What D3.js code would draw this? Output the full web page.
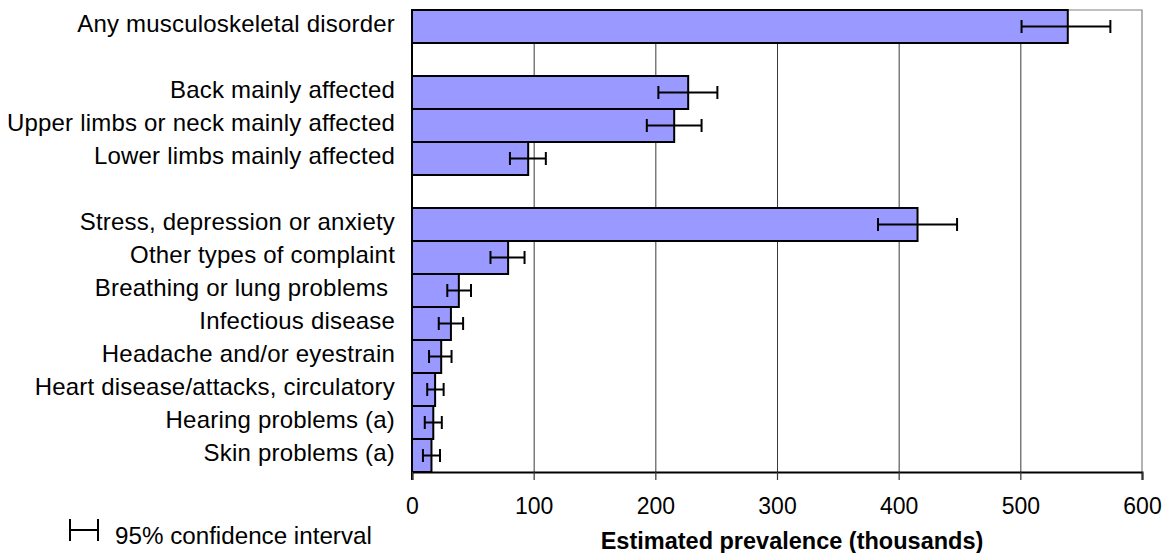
<!DOCTYPE html>
<html>
<head>
<meta charset="utf-8">
<script src="https://cdn.jsdelivr.net/npm/d3@7"></script>
<style>
  html, body { margin: 0; padding: 0; background: #fff; }
  svg { display: block; font-family: "Liberation Sans", Arial, sans-serif; }
</style>
</head>
<body>
<svg id="chart" width="1173" height="553"></svg>
<script>
// ---- Data ----
const categories = [
  "Any musculoskeletal disorder",
  "Back mainly affected",
  "Upper limbs or neck mainly affected",
  "Lower limbs mainly affected",
  "Stress, depression or anxiety",
  "Other types of complaint",
  "Breathing or lung problems ",
  "Infectious disease",
  "Headache and/or eyestrain",
  "Heart disease/attacks, circulatory",
  "Hearing problems (a)",
  "Skin problems (a)"
];
const values = [539, 227, 215.5, 95.5, 415.5, 79, 38.5, 32, 24, 19, 17.5, 16];
const lower  = [501, 202.5, 193, 80.5, 383, 64.5, 29, 22, 14, 12.5, 10.5, 9];
const upper  = [574, 251, 238, 110, 448, 92.5, 48.5, 42, 32.5, 26, 24.5, 23];
// rows in display order; gap rows separate the groups
const rowOrder = [categories[0], "gap1", categories[1], categories[2], categories[3], "gap2",
  categories[4], categories[5], categories[6], categories[7], categories[8], categories[9], categories[10], categories[11]];
const xTicks = [0, 100, 200, 300, 400, 500, 600];
const xTitle = "Estimated prevalence (thousands)";
const legendText = "95% confidence interval";

// ---- Layout ----
const svg = d3.select("#chart");
const pL = 412, pR = 1142, pT = 10, pB = 472;
const x = d3.scaleLinear().domain([0, 600]).range([pL, pR]);
const y = d3.scaleBand().domain(rowOrder).range([pT, pB]).padding(0);

const data = categories.map((c, i) => ({ c, v: values[i], lo: lower[i], hi: upper[i] }));

// gridlines
svg.append("g").selectAll("line").data(xTicks.filter(t => t > 0 && t < 600)).join("line")
  .attr("x1", d => x(d) + 0.5).attr("x2", d => x(d) + 0.5)
  .attr("y1", pT).attr("y2", pB)
  .attr("stroke", "#3a3a3a").attr("stroke-width", 1);

// plot frame (top and right, grey)
svg.append("path")
  .attr("d", `M${pL},${pT}H${pR}V${pB}`)
  .attr("fill", "none").attr("stroke", "#808080").attr("stroke-width", 1.2);

// bars
svg.append("g").selectAll("rect").data(data).join("rect")
  .attr("x", x(0))
  .attr("y", d => y(d.c))
  .attr("width", d => x(d.v) - x(0))
  .attr("height", y.bandwidth())
  .attr("fill", "#9999FF")
  .attr("stroke", "#000").attr("stroke-width", 2);

// error bars
const eb = svg.append("g").attr("stroke", "#000").attr("stroke-width", 2);
const cap = 6.5;
data.forEach(d => {
  const cy = y(d.c) + y.bandwidth() / 2;
  eb.append("line").attr("x1", x(d.lo)).attr("x2", x(d.hi)).attr("y1", cy).attr("y2", cy);
  eb.append("line").attr("x1", x(d.lo)).attr("x2", x(d.lo)).attr("y1", cy - cap).attr("y2", cy + cap);
  eb.append("line").attr("x1", x(d.hi)).attr("x2", x(d.hi)).attr("y1", cy - cap).attr("y2", cy + cap);
});

// category labels
svg.append("g").selectAll("text").data(data).join("text")
  .attr("x", 395)
  .attr("y", d => y(d.c) + y.bandwidth() / 2 + 5)
  .attr("text-anchor", "end")
  .style("white-space", "pre")
  .attr("font-size", 24)
  .attr("letter-spacing", 0.2)
  .attr("fill", "#000")
  .text(d => d.c);

// left axis line
svg.append("line").attr("x1", pL).attr("x2", pL).attr("y1", pT).attr("y2", pB + 8)
  .attr("stroke", "#000").attr("stroke-width", 2);

// bottom axis
const xAxis = svg.append("g").attr("transform", `translate(0,${pB})`)
  .call(d3.axisBottom(x).tickValues(xTicks).tickSize(8).tickPadding(18).tickFormat(d3.format("d")));
xAxis.select(".domain").attr("stroke", "#000").attr("stroke-width", 2);
xAxis.selectAll(".tick line").attr("stroke", "#333").attr("stroke-width", 1.2);
xAxis.selectAll(".tick text").attr("font-size", 23).attr("fill", "#000")
  .attr("font-family", "Liberation Sans, Arial, sans-serif");

// axis title
svg.append("text").attr("x", 792).attr("y", 549).attr("text-anchor", "middle")
  .attr("font-size", 23.5).attr("font-weight", "bold").attr("fill", "#000").text(xTitle);

// legend
const lg = svg.append("g").attr("stroke", "#000").attr("stroke-width", 2);
lg.append("line").attr("x1", 70).attr("x2", 98).attr("y1", 530).attr("y2", 530);
lg.append("line").attr("x1", 70).attr("x2", 70).attr("y1", 519).attr("y2", 541);
lg.append("line").attr("x1", 98).attr("x2", 98).attr("y1", 519).attr("y2", 541);
svg.append("text").attr("x", 115).attr("y", 544).attr("font-size", 24.2)
  .attr("fill", "#000").text(legendText);
</script>
</body>
</html>
